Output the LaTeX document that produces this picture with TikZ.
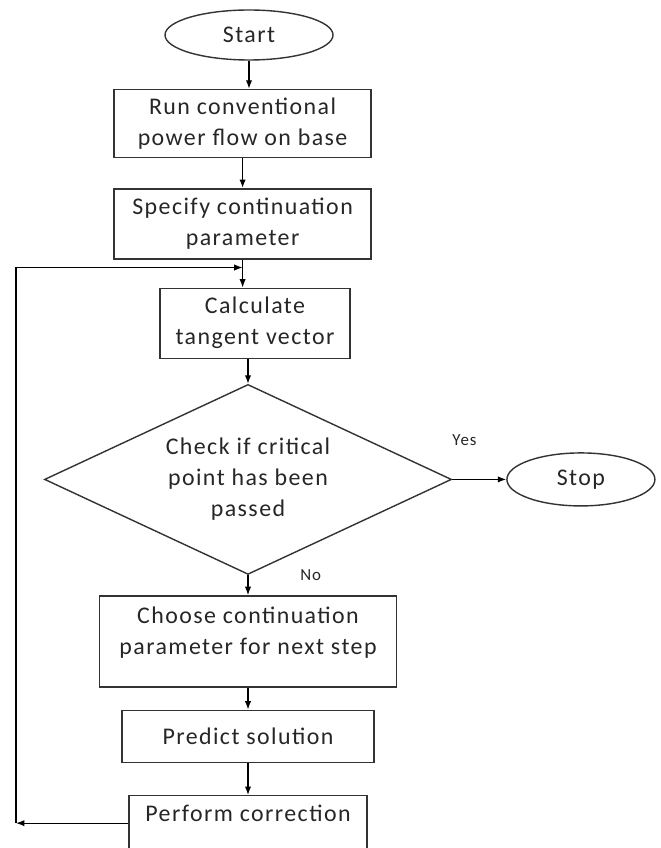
\documentclass[tikz,border=0pt]{standalone}
\usepackage{fontspec}
\setmainfont{Carlito}[LetterSpace=6]
\usetikzlibrary{positioning,shapes.geometric,arrows.meta}

\begin{document}
\begin{tikzpicture}[
>={Latex[length=6pt,width=4.5pt]},
every node/.style={font=\fontsize{17}{22}\selectfont, text=black!85},
endnode/.style={ellipse, draw=black!80, line width=1pt, inner sep=0pt},
stepbox/.style={rectangle, draw=black!80, line width=1pt, align=center, inner sep=0pt},
checknode/.style={diamond, aspect=2.14, draw=black!80, line width=1pt, align=center, inner sep=0pt, minimum width=10.175cm, minimum height=4.75cm},
answer/.style={font=\fontsize{12}{14}\selectfont, inner sep=0pt},
]
\useasboundingbox (0,0) rectangle (16.5,-21.2);

%Nodes
\node[endnode, minimum width=4.2cm, minimum height=1.25cm] (start) at (6.225,-0.875) {Start};
\node[stepbox, minimum width=6.425cm, minimum height=1.7cm] (run) [below=0.7cm of start, xshift=-0.16cm] {Run conventional\\power flow on base};
\node[stepbox, minimum width=6.425cm, minimum height=1.75cm] (spec) [below=0.75cm of run] {Specify continuation\\parameter};
\node[stepbox, minimum width=4.75cm, minimum height=1.75cm] (calc) [below=0.7cm of spec, xshift=0.31cm] {Calculate\\tangent vector};
\node[checknode] (check) [below=0.62cm of calc, xshift=-0.175cm] {Check if critical\\point has been\\passed};
\node[endnode, minimum width=3.7cm, minimum height=1.325cm] (stop) [right=1.35cm of check] {Stop};
\node[stepbox, minimum width=7.425cm, minimum height=2.275cm, text depth=0.55cm] (choose) [below=0.5cm of check] {Choose continuation\\parameter for next step};
\node[stepbox, minimum width=6.3cm, minimum height=1.3cm] (pred) [below=0.55cm of choose] {Predict solution};
\node[stepbox, minimum width=5.95cm, minimum height=1.375cm, text depth=0.5cm] (corr) [below=0.8cm of pred] {Perform correction};

\node[answer] (yes) [above right=0.85cm and 0cm of check.east] {Yes};
\node[answer] (no) [right=1.3cm of check.south] {No};

\coordinate (join) at ([yshift=-0.2cm]spec.south);
\coordinate (loopbot) at (0.4,0 |- corr.west);

%Lines
\draw[thick,->] (start.south) -- (start.south |- run.north);
\draw[very thick,->] (run.south) -- (spec.north);
\draw[thick,->] (spec.south) -- (spec.south |- calc.north);
\draw[thick,->] (calc.south -| check.north) -- (check.north);
\draw[thick,->] (check.east) -- (stop.west);
\draw[thick,->] (check.south) -- (check.south |- choose.north);
\draw[thick,->] (choose.south) -- (choose.south |- pred.north);
\draw[thick,->] (pred.south) -- (pred.south |- corr.north);
\draw[thick,->] (corr.west) -- (loopbot);
\draw[thick,->] (loopbot) |- (join);
\end{tikzpicture}
\end{document}
